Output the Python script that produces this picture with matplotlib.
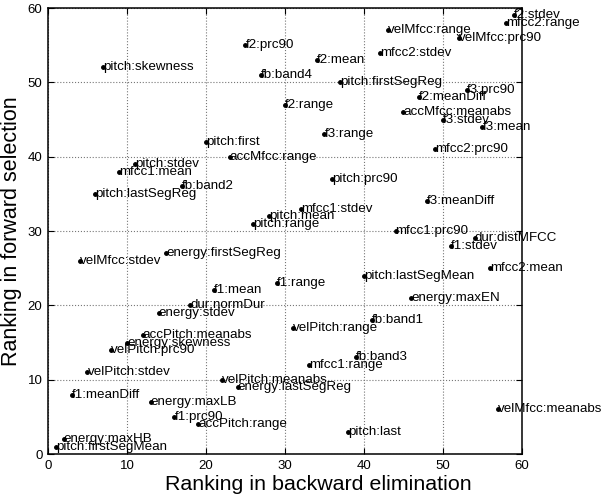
import numpy as np
import matplotlib.pyplot as plt

plt.rcParams['font.family'] = ['Liberation Sans', 'DejaVu Sans']

# feature names with their ranks (backward elimination, forward selection)
names = ['f2:stdev', 'mfcc2:range', 'velMfcc:range', 'velMfcc:prc90', 'f2:prc90',
         'mfcc2:stdev', 'f2:mean', 'pitch:skewness', 'fb:band4', 'pitch:firstSegReg',
         'f3:prc90', 'f2:meanDiff', 'f2:range', 'accMfcc:meanabs', 'f3:stdev',
         'f3:mean', 'f3:range', 'pitch:first', 'mfcc2:prc90', 'accMfcc:range',
         'pitch:stdev', 'mfcc1:mean', 'pitch:prc90', 'fb:band2', 'pitch:lastSegReg',
         'f3:meanDiff', 'mfcc1:stdev', 'pitch:mean', 'pitch:range', 'mfcc1:prc90',
         'dur:distMFCC', 'f1:stdev', 'energy:firstSegReg', 'velMfcc:stdev', 'mfcc2:mean',
         'pitch:lastSegMean', 'f1:range', 'f1:mean', 'energy:maxEN', 'dur:normDur',
         'energy:stdev', 'fb:band1', 'velPitch:range', 'accPitch:meanabs', 'energy:skewness',
         'velPitch:prc90', 'fb:band3', 'mfcc1:range', 'velPitch:stdev', 'velPitch:meanabs',
         'energy:lastSegReg', 'f1:meanDiff', 'energy:maxLB', 'velMfcc:meanabs', 'f1:prc90',
         'accPitch:range', 'pitch:last', 'energy:maxHB', 'pitch:firstSegMean']
backward = [59, 58, 43, 52, 25, 42, 34, 7, 27, 37,
            53, 47, 30, 45, 50, 55, 35, 20, 49, 23,
            11, 9, 36, 17, 6, 48, 32, 28, 26, 44,
            54, 51, 15, 4, 56, 40, 29, 21, 46, 18,
            14, 41, 31, 12, 10, 8, 39, 33, 5, 22,
            24, 3, 13, 57, 16, 19, 38, 2, 1]
forward = [59, 58, 57, 56, 55, 54, 53, 52, 51, 50,
           49, 48, 47, 46, 45, 44, 43, 42, 41, 40,
           39, 38, 37, 36, 35, 34, 33, 32, 31, 30,
           29, 28, 27, 26, 25, 24, 23, 22, 21, 20,
           19, 18, 17, 16, 15, 14, 13, 12, 11, 10,
           9, 8, 7, 6, 5, 4, 3, 2, 1]

fig = plt.figure(figsize=(6.03, 4.95), dpi=100)
ax = fig.add_axes([0.0796, 0.0828, 0.786, 0.901])

ax.plot(backward, forward, 'k.', markersize=5)
for x, y, s in zip(backward, forward, names):
    ax.text(x, y, s, ha='left', va='center', fontsize=9.6, clip_on=False)

ax.set_xlim(0, 60)
ax.set_ylim(0, 60)
ax.set_xticks(np.arange(0, 61, 10))
ax.set_yticks(np.arange(0, 61, 10))
ax.grid(True, linestyle=':', color='#777777', linewidth=0.8)
ax.tick_params(direction='in', top=True, right=True, labelsize=9.5, length=4, pad=4)
for sp in ax.spines.values():
    sp.set_linewidth(1.1)

ax.set_xlabel('Ranking in backward elimination', fontsize=15.4)
ax.xaxis.set_label_coords(0.57, -0.046)
ax.set_ylabel('Ranking in forward selection', fontsize=15.5, labelpad=4)

fig.savefig('out.png', dpi=100)
